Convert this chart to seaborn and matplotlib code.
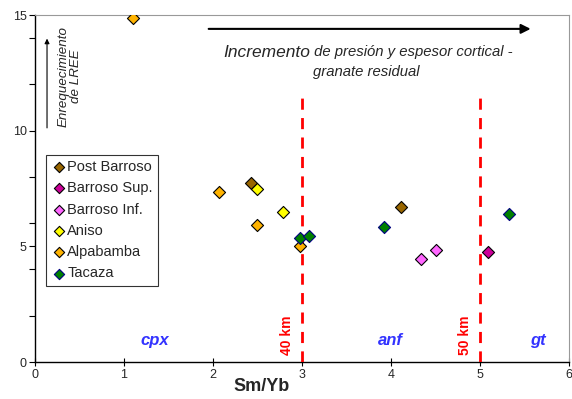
import matplotlib
matplotlib.use("Agg")
import matplotlib.pyplot as plt
import seaborn as sns
import pandas as pd
from matplotlib.ticker import MultipleLocator

sns.set_theme(style="white")
plt.rcParams['font.family'] = ['Liberation Sans', 'DejaVu Sans']

groups = ["Post Barroso", "Barroso Sup.", "Barroso Inf.", "Aniso", "Alpabamba", "Tacaza"]
post_barroso_x = [2.43, 4.11]
post_barroso_y = [7.75, 6.68]
barroso_sup_x = [5.09]
barroso_sup_y = [4.77]
barroso_inf_x = [4.34, 4.51]
barroso_inf_y = [4.46, 4.84]
aniso_x = [2.49, 2.79]
aniso_y = [7.47, 6.48]
alpabamba_x = [1.10, 2.07, 2.49, 2.98]
alpabamba_y = [14.85, 7.34, 5.93, 5.00]
tacaza_x = [2.98, 3.08, 3.92, 5.33]
tacaza_y = [5.37, 5.45, 5.83, 6.39]

face_colors = ["#996600", "#CC0099", "#FF66FF", "#FFFF00", "#FFB300", "#008000"]
edge_colors = ["black", "black", "black", "black", "black", "#000080"]

xs = [post_barroso_x, barroso_sup_x, barroso_inf_x, aniso_x, alpabamba_x, tacaza_x]
ys = [post_barroso_y, barroso_sup_y, barroso_inf_y, aniso_y, alpabamba_y, tacaza_y]

rows = []
for g, xv, yv in zip(groups, xs, ys):
    for a, b in zip(xv, yv):
        rows.append({"Sm/Yb": a, "La/Yb": b, "grupo": g})
df = pd.DataFrame(rows)

fig = plt.figure(figsize=(5.72, 3.99), dpi=100)
ax = fig.add_axes([0.0612, 0.0927, 0.9336, 0.8697])

for g, fc, ec in zip(groups, face_colors, edge_colors):
    sub = df[df["grupo"] == g]
    sns.scatterplot(data=sub, x="Sm/Yb", y="La/Yb", ax=ax, marker="D", s=38,
                    color=fc, edgecolor=ec, linewidth=0.8, label=g, zorder=5)

ax.set_xlim(0, 6)
ax.set_ylim(0, 15)
ax.set_xticks([0, 1, 2, 3, 4, 5, 6])
ax.set_yticks([0, 5, 10, 15])
ax.yaxis.set_minor_locator(MultipleLocator(2))
ax.tick_params(axis="both", which="major", labelsize=9, length=4, direction="out",
               color="black", width=0.8, bottom=True, left=True, pad=2)
ax.tick_params(axis="y", which="minor", length=4, direction="out", color="black",
               width=0.8, left=True)
ax.tick_params(axis="x", direction="inout", length=6)
for sp in ["left", "bottom"]:
    ax.spines[sp].set_color("black")
    ax.spines[sp].set_linewidth(1.0)
for sp in ["top", "right"]:
    ax.spines[sp].set_color("#999999")
    ax.spines[sp].set_linewidth(0.8)

ax.set_xlabel("Sm/Yb", fontsize=13, fontweight="bold")
ax.xaxis.set_label_coords(0.425, -0.045)
ax.set_ylabel("")

# dashed boundaries
for xv in [3, 5]:
    ax.plot([xv, xv], [0, 11.7], color="#FF0000", linestyle=(0, (4, 3)), linewidth=2, zorder=3)
ax.text(2.83, 1.15, "40 km", color="#FF0000", rotation=90, fontsize=10, fontweight="bold",
        ha="center", va="center")
ax.text(4.83, 1.15, "50 km", color="#FF0000", rotation=90, fontsize=10, fontweight="bold",
        ha="center", va="center")

for lab, xv in [("cpx", 1.35), ("anf", 3.99), ("gt", 5.65)]:
    ax.text(xv, 0.95, lab, color="#3333FF", fontsize=12, fontweight="bold", style="italic",
            ha="center", va="center")

# top arrow
ax.annotate("", xy=(5.6, 14.4), xytext=(1.92, 14.4),
            arrowprops=dict(arrowstyle="-|>", color="black", lw=1.5, mutation_scale=14))
ax.text(3.09, 13.4, "Incremento", fontsize=12.5, style="italic", ha="right", va="center")
ax.text(3.09, 13.4, " de presión y espesor cortical -", fontsize=10.7, style="italic",
        ha="left", va="center")
ax.text(3.72, 12.55, "granate residual", fontsize=10.7, style="italic", ha="center", va="center")

# vertical arrow
ax.annotate("", xy=(0.135, 14.1), xytext=(0.135, 10.0),
            arrowprops=dict(arrowstyle="-|>", color="black", lw=0.8, mutation_scale=7))
ax.text(0.39, 12.35, "Enrequecimiento\nde LREE", rotation=90, fontsize=9.6, style="italic",
        ha="center", va="center", linespacing=1.0)

leg = ax.legend(loc="upper left", bbox_to_anchor=(0.0206, 0.597), fontsize=10.5, frameon=True,
                fancybox=False, edgecolor="black", borderpad=0.35, labelspacing=0.5,
                handletextpad=0.0, handlelength=1.1, borderaxespad=0, markerscale=0.85)
leg.get_frame().set_linewidth(0.8)

fig.savefig("out.png", dpi=100)
